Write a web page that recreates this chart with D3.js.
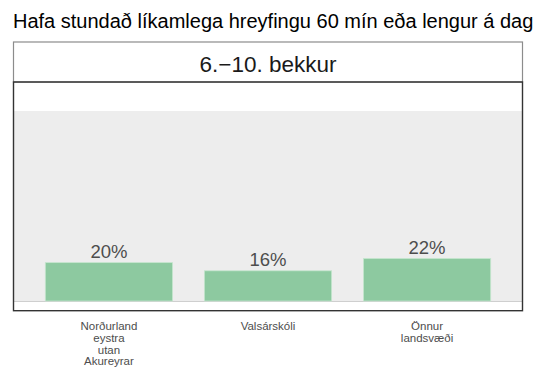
<!DOCTYPE html>
<html><head><meta charset="utf-8">
<script src="https://cdn.jsdelivr.net/npm/d3@7"></script>
<style>body{margin:0;background:#fff}svg{display:block;font-family:"Liberation Sans",Arial,sans-serif}</style>
</head><body>
<svg id="c" width="536" height="384"></svg>
<script>
const title = "Hafa stundað líkamlega hreyfingu 60 mín eða lengur á dag s";
const facet = "6.\u221210. bekkur";
const categories = ["Norðurland eystra utan Akureyrar", "Valsárskóli", "Önnur landsvæði"];
const categoryLines = [["Norðurland","eystra","utan","Akureyrar"],["Valsárskóli"],["Önnur","landsvæði"]];
const values = [20.2, 15.9, 22.4];

const svg = d3.select("#c");
const P = {l:13.5, r:522.5, stripTop:42, stripBot:82, bot:310.7};
const x = d3.scaleBand().domain(categories).range([P.l, P.r]).paddingInner(0.2).paddingOuter(0.2);
const y = d3.scaleLinear().domain([0,100]).range([301,111]);

svg.append("text").attr("x",13).attr("y",28).attr("font-size",20).attr("fill","#000").text(title);

// strip
svg.append("rect").attr("x",P.l).attr("y",P.stripTop).attr("width",P.r-P.l).attr("height",P.stripBot-P.stripTop)
  .attr("fill","#fff").attr("stroke","#8c8c8c").attr("stroke-width",1.2);
svg.append("text").attr("x",(P.l+P.r)/2).attr("y",71.5).attr("text-anchor","middle").attr("font-size",22.5).attr("fill","#1a1a1a").text(facet);

// panel
svg.append("rect").attr("x",P.l).attr("y",y(100)).attr("width",P.r-P.l).attr("height",y(0)-y(100)).attr("fill","#ededed");
svg.append("line").attr("x1",P.l).attr("x2",P.r).attr("y1",y(0)+0.5).attr("y2",y(0)+0.5).attr("stroke","#cfcfcf").attr("stroke-width",1);

svg.selectAll("rect.bar").data(values).join("rect").attr("class","bar")
  .attr("x",(d,i)=>x(categories[i])).attr("width",x.bandwidth())
  .attr("y",d=>y(d)).attr("height",d=>y(0)-y(d))
  .attr("fill","#8dc9a0").attr("stroke","#c6e6cf").attr("stroke-width",0.8);

svg.selectAll("text.lab").data(values).join("text").attr("class","lab")
  .attr("x",(d,i)=>x(categories[i])+x.bandwidth()/2).attr("y",d=>y(d)-4.5)
  .attr("text-anchor","middle").attr("font-size",18.5).attr("fill","#4d4d4d")
  .text(d=>Math.round(d)+"%");

svg.append("rect").attr("x",P.l).attr("y",P.stripBot).attr("width",P.r-P.l).attr("height",P.bot-P.stripBot)
  .attr("fill","none").attr("stroke","#333").attr("stroke-width",1.4);

// x axis labels
const xa = svg.selectAll("g.xl").data(categoryLines).join("g").attr("class","xl");
xa.each(function(lines,i){
  const g = d3.select(this);
  lines.forEach((t,j)=>{
    g.append("text").attr("x",x(categories[i])+x.bandwidth()/2).attr("y",330.3+j*11.7)
     .attr("text-anchor","middle").attr("font-size",11.5).attr("fill","#4d4d4d").text(t);
  });
});
</script>
</body></html>
